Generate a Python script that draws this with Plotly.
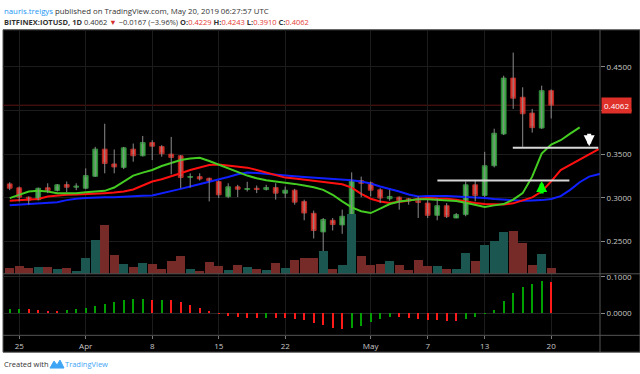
import plotly.graph_objects as go
import pandas as pd

# ---------------- data ----------------
start_date = "2019-03-24"
opens = [0.3161, 0.3116, 0.3009, 0.2980, 0.3116, 0.3085, 0.3153, 0.3123, 0.3111, 0.3248,
         0.3559, 0.3389, 0.3350, 0.3559, 0.3483, 0.3634, 0.3589, 0.3502, 0.3483, 0.3236,
         0.3244, 0.3225, 0.3188, 0.3014, 0.3127, 0.3097, 0.3111, 0.3097, 0.3120, 0.3055,
         0.3089, 0.2960, 0.2824, 0.2611, 0.2744, 0.2691, 0.2790, 0.3199, 0.3173, 0.3093,
         0.2991, 0.3009, 0.2991, 0.2968, 0.2941, 0.2801, 0.2911, 0.2770, 0.2809, 0.3150,
         0.3028, 0.3369, 0.3733, 0.4373, 0.4153, 0.3972, 0.3801, 0.4229]
highs = [0.3180, 0.3131, 0.3017, 0.3118, 0.3168, 0.3160, 0.3188, 0.3168, 0.3339, 0.3585,
         0.3850, 0.3555, 0.3585, 0.3623, 0.3710, 0.3661, 0.3604, 0.3699, 0.3490, 0.3282,
         0.3282, 0.3232, 0.3200, 0.3168, 0.3150, 0.3185, 0.3142, 0.3150, 0.3168, 0.3131,
         0.3104, 0.2980, 0.2855, 0.2770, 0.2770, 0.2866, 0.3293, 0.3244, 0.3188, 0.3111,
         0.3093, 0.3017, 0.2998, 0.3017, 0.2980, 0.2998, 0.2941, 0.2827, 0.3188, 0.3207,
         0.3528, 0.3793, 0.4400, 0.4665, 0.4267, 0.4020, 0.4286, 0.4243]
lows = [0.3089, 0.2960, 0.2923, 0.2972, 0.3055, 0.3074, 0.3066, 0.3089, 0.3100, 0.3240,
        0.3282, 0.3282, 0.3330, 0.3415, 0.3475, 0.3434, 0.3472, 0.3270, 0.3111, 0.3119,
        0.3199, 0.2960, 0.3000, 0.2998, 0.3009, 0.3074, 0.3055, 0.3085, 0.2980, 0.2998,
        0.2923, 0.2744, 0.2536, 0.2355, 0.2627, 0.2589, 0.2790, 0.3009, 0.3017, 0.2941,
        0.2968, 0.2866, 0.2923, 0.2770, 0.2770, 0.2744, 0.2770, 0.2770, 0.2790, 0.2960,
        0.3010, 0.3350, 0.3720, 0.4020, 0.3585, 0.3748, 0.3790, 0.3910]
closes = [0.3111, 0.3009, 0.2975, 0.3111, 0.3085, 0.3150, 0.3123, 0.3134, 0.3256, 0.3559,
          0.3395, 0.3355, 0.3574, 0.3483, 0.3634, 0.3593, 0.3506, 0.3464, 0.3233, 0.3245,
          0.3218, 0.3195, 0.3036, 0.3127, 0.3100, 0.3108, 0.3097, 0.3120, 0.3055, 0.3089,
          0.2952, 0.2827, 0.2627, 0.2752, 0.2695, 0.2790, 0.3199, 0.3168, 0.3089, 0.2998,
          0.3017, 0.2968, 0.2980, 0.2949, 0.2801, 0.2911, 0.2786, 0.2809, 0.3150, 0.3028,
          0.3369, 0.3741, 0.4373, 0.4142, 0.3964, 0.3805, 0.4229, 0.4062]
volumes = [1.4, 1.9, 1.4, 1.75, 1.6, 1.3, 1.5, 0.75, 4.0, 8.5,
           12.2, 4.8, 2.5, 1.8, 2.75, 2.4, 1.25, 3.3, 4.5, 1.1,
           0.6, 3.1, 1.9, 1.0, 2.25, 1.8, 1.2, 1.0, 2.7, 1.4,
           3.6, 3.9, 4.0, 5.7, 1.3, 2.3, 15.0, 4.6, 2.25, 2.4,
           3.25, 2.25, 0.9, 3.4, 1.9, 1.9, 1.25, 1.1, 5.15, 3.3,
           7.3, 8.3, 10.65, 10.8, 7.8, 2.25, 5.0, 1.5]

# Alligator lines (lips / teeth / jaw), displaced forward, starting at start_date
lips = [0.2998, 0.3032, 0.3074, 0.3081, 0.3074, 0.3055, 0.3051, 0.3055, 0.3066, 0.3074,
        0.3081, 0.3119, 0.3188, 0.3256, 0.3290, 0.3320, 0.3366, 0.3403, 0.3434, 0.3452,
        0.3460, 0.3423, 0.3380, 0.3339, 0.3293, 0.3256, 0.3225, 0.3202, 0.3188, 0.3176,
        0.3161, 0.3142, 0.3123, 0.3093, 0.3036, 0.2960, 0.2892, 0.2847, 0.2827, 0.2877,
        0.2930, 0.2960, 0.2972, 0.2985, 0.2986, 0.2980, 0.2975, 0.2964, 0.2945, 0.2923,
        0.2896, 0.2915, 0.2930, 0.2980, 0.3055, 0.3244, 0.3509, 0.3611, 0.3661, 0.3737,
        0.3809]
teeth = [0.2968, 0.2972, 0.2980, 0.2987, 0.3017, 0.3028, 0.3036, 0.3040, 0.3043, 0.3047,
         0.3055, 0.3062, 0.3074, 0.3097, 0.3138, 0.3188, 0.3214, 0.3244, 0.3282, 0.3320,
         0.3350, 0.3377, 0.3384, 0.3369, 0.3354, 0.3347, 0.3320, 0.3293, 0.3264, 0.3233,
         0.3222, 0.3210, 0.3195, 0.3180, 0.3168, 0.3157, 0.3119, 0.3047, 0.2991, 0.2960,
         0.2941, 0.2952, 0.2968, 0.2990, 0.2998, 0.2993, 0.2991, 0.2980, 0.2960, 0.2941,
         0.2930, 0.2926, 0.2926, 0.2938, 0.2968, 0.3006, 0.3074, 0.3190, 0.3320, 0.3380,
         0.3440, 0.3500, 0.3560]
jaw = [0.2915, 0.2923, 0.2930, 0.2938, 0.2941, 0.2952, 0.2975, 0.2991, 0.2998, 0.3006,
       0.3009, 0.3009, 0.3017, 0.3021, 0.3025, 0.3028, 0.3051, 0.3081, 0.3104, 0.3131,
       0.3157, 0.3188, 0.3214, 0.3240, 0.3271, 0.3290, 0.3286, 0.3275, 0.3264, 0.3256,
       0.3248, 0.3240, 0.3233, 0.3229, 0.3222, 0.3214, 0.3202, 0.3188, 0.3165, 0.3131,
       0.3104, 0.3074, 0.3040, 0.3017, 0.3021, 0.3025, 0.3021, 0.3017, 0.3013, 0.3006,
       0.2998, 0.2987, 0.2980, 0.2972, 0.2968, 0.2972, 0.2975, 0.2987, 0.3021, 0.3093,
       0.3180, 0.3244, 0.3271, 0.3300]

# Awesome oscillator histogram
ao = [0.0117, 0.0126, 0.0122, 0.0090, 0.0072, 0.0070, 0.0090, 0.0117, 0.0144, 0.0198,
      0.0261, 0.0306, 0.0360, 0.0387, 0.0405, 0.0369, 0.0375, 0.0369, 0.0306, 0.0225,
      0.0144, 0.0063, -0.0010, -0.0063, -0.0090, -0.0117, -0.0120, -0.0110, -0.0117, -0.0120,
      -0.0153, -0.0189, -0.0252, -0.0324, -0.0387, -0.0432, -0.0405, -0.0333, -0.0225, -0.0144,
      -0.0099, -0.0108, -0.0135, -0.0162, -0.0180, -0.0189, -0.0198, -0.0200, -0.0144, -0.0099,
      -0.0010, 0.0108, 0.0333, 0.0568, 0.0712, 0.0811, 0.0874, 0.0847]

tick_dates = ["2019-03-25", "2019-04-01", "2019-04-08", "2019-04-15", "2019-04-22",
              "2019-05-01", "2019-05-07", "2019-05-13", "2019-05-20"]
tick_labels = ["25", "Apr", "8", "15", "22", "May", "7", "13", "20"]
price_ticks = [0.25, 0.30, 0.35, 0.40, 0.45]
ao_ticks = [0.0, 0.1]

support_level = 0.3199   # drawn horizontal lines
resist_level = 0.3574

# ---------------- derived ----------------
dates = pd.date_range(start_date, periods=len(closes), freq="D")
lips_d = pd.date_range(start_date, periods=len(lips), freq="D")
teeth_d = pd.date_range(start_date, periods=len(teeth), freq="D")
jaw_d = pd.date_range(start_date, periods=len(jaw), freq="D")

W, H = 640, 374
def px_x(p): return p / W
def px_y(p): return (H - p) / H

UP, DN = "#41ad49", "#e5352e"
UP_L, DN_L = "#2f8c38", "#b52822"
VOL_UP, VOL_DN = "#1b5650", "#772b29"
GRID = "#1c1c1c"
FRAME = "#555555"

body_hi = [max(o, c) for o, c in zip(opens, closes)]
body_lo = [min(o, c) for o, c in zip(opens, closes)]

wx, wy = [], []
for d, lo, hi in zip(dates, lows, highs):
    wx += [d, d, None]
    wy += [lo, hi, None]

vol_colors = [VOL_UP if c >= o else VOL_DN for o, c in zip(opens, closes)]
ao_colors = [("#00a000" if (i == 0 or v >= ao[i - 1]) else "#ff1a1a") for i, v in enumerate(ao)]

DAY = 86400000

fig = go.Figure()

fig.add_trace(go.Bar(x=dates, y=volumes, marker=dict(color=vol_colors, line=dict(width=0)),
                     width=0.93 * DAY, xaxis="x", yaxis="y3", hoverinfo="skip", showlegend=False))
fig.add_trace(go.Scatter(x=jaw_d, y=jaw, mode="lines", line=dict(color="#1020ff", width=2),
                         xaxis="x", yaxis="y", hoverinfo="skip", showlegend=False))
fig.add_trace(go.Scatter(x=teeth_d, y=teeth, mode="lines", line=dict(color="#ff1010", width=2),
                         xaxis="x", yaxis="y", hoverinfo="skip", showlegend=False))
fig.add_trace(go.Scatter(x=lips_d, y=lips, mode="lines", line=dict(color="#44cc22", width=2),
                         xaxis="x", yaxis="y", hoverinfo="skip", showlegend=False))
fig.add_trace(go.Scatter(x=wx, y=wy, mode="lines", line=dict(color="#8c8c8c", width=1),
                         xaxis="x", yaxis="y", hoverinfo="skip", showlegend=False))
fig.add_trace(go.Candlestick(x=dates, open=opens, high=body_hi, low=body_lo, close=closes,
                             increasing=dict(fillcolor=UP, line=dict(color=UP_L, width=1)),
                             decreasing=dict(fillcolor=DN, line=dict(color=DN_L, width=1)),
                             whiskerwidth=0, xaxis="x", yaxis="y", hoverinfo="skip", showlegend=False))
fig.add_trace(go.Bar(x=dates, y=ao, marker=dict(color=ao_colors, line=dict(width=0)),
                     width=0.22 * DAY, xaxis="x2", yaxis="y2", hoverinfo="skip", showlegend=False))

x_range = ["2019-03-23 07:00", "2019-05-25 03:20"]
xdom = [px_x(3), px_x(600)]
price_dom = [px_y(273), px_y(27)]
ao_dom = [px_y(335), px_y(273)]

axis_font = dict(family="Open Sans, Roboto, sans-serif", size=8, color="#c8c8c8")

fig.update_layout(
    width=W, height=H, autosize=False,
    margin=dict(l=0, r=0, t=0, b=0),
    paper_bgcolor="white", plot_bgcolor="black",
    showlegend=False, bargap=0, boxgap=0.28,
    xaxis=dict(domain=xdom, range=x_range, type="date", anchor="y",
               tickvals=tick_dates, showticklabels=False, ticks="",
               showgrid=True, gridcolor=GRID, gridwidth=1, zeroline=False,
               showline=False, rangeslider=dict(visible=False)),
    xaxis2=dict(domain=xdom, range=x_range, type="date", anchor="y2", matches="x",
                tickvals=tick_dates, ticktext=tick_labels, ticks="outside", ticklen=3,
                tickcolor="#777", tickfont=axis_font,
                showgrid=True, gridcolor=GRID, gridwidth=1, zeroline=False, showline=False),
    yaxis=dict(domain=price_dom, range=[0.2131, 0.4926], side="right", anchor="x",
               tickvals=price_ticks, tickformat=".4f", ticks="outside", ticklen=4,
               tickcolor="#888", tickfont=axis_font, showgrid=True, gridcolor=GRID,
               zeroline=False, showline=False),
    yaxis3=dict(overlaying="y", range=[0, 61.5], visible=False, anchor="x"),
    yaxis2=dict(domain=ao_dom, range=[-0.0595, 0.1081], side="right", anchor="x2",
                tickvals=ao_ticks, tickformat=".4f", ticks="outside", ticklen=4,
                tickcolor="#888", tickfont=axis_font, showgrid=True, gridcolor="#262626",
                zeroline=False, showline=False),
)

shapes = []
# black chart frame background
shapes.append(dict(type="rect", xref="paper", yref="paper", x0=px_x(3), x1=1.0,
                   y0=px_y(352), y1=px_y(27), fillcolor="black",
                   line=dict(color=FRAME, width=1), layer="below"))
# dividers
shapes.append(dict(type="line", xref="paper", yref="paper", x0=px_x(600), x1=px_x(600),
                   y0=px_y(352), y1=px_y(27), line=dict(color=FRAME, width=1), layer="above"))
for yy in (273, 335):
    shapes.append(dict(type="line", xref="paper", yref="paper", x0=px_x(3), x1=1.0,
                       y0=px_y(yy), y1=px_y(yy), line=dict(color=FRAME, width=1), layer="above"))
# last price line
shapes.append(dict(type="line", xref="x", yref="y", x0=x_range[0], x1=x_range[1],
                   y0=closes[-1], y1=closes[-1], line=dict(color="#5c1414", width=1), layer="below"))
# drawn support / resistance lines
shapes.append(dict(type="line", xref="x", yref="y", x0="2019-05-08 00:30", x1="2019-05-21 22:00",
                   y0=support_level, y1=support_level, line=dict(color="#d8d8d8", width=2), layer="above"))
shapes.append(dict(type="line", xref="x", yref="y", x0="2019-05-15 23:00", x1="2019-05-24 23:00",
                   y0=resist_level, y1=resist_level, line=dict(color="#d8d8d8", width=2), layer="above"))
# TradingView logo (small cloud)
shapes.append(dict(type="path", xref="paper", yref="paper",
                   path=f"M {px_x(50)} {px_y(368)} L {px_x(54)} {px_y(361)} L {px_x(57)} {px_y(365)} "
                        f"L {px_x(60)} {px_y(360)} L {px_x(64)} {px_y(368)} Z",
                   fillcolor="#3ea5f5", line=dict(color="#3ea5f5", width=1)))
fig.update_layout(shapes=shapes)

hdr_font1 = dict(family="Open Sans, Roboto, sans-serif", size=7.8, color="#333333")
hdr_font2 = dict(family="Open Sans, Roboto, sans-serif", size=7.5, color="#333333")
line1 = ('<span style="color:#2196f3">nauris.treigys</span> published on TradingView.com, '
         'May 20, 2019 06:27:57 UTC')
line2 = ('<b>BITFINEX:IOTUSD, 1D</b> ' + f"{closes[-1]:.4f} "
         '<span style="color:#d32f2f">▼</span> −0.0167 (−3.96%) '
         f'<b>O:</b><span style="color:#e53935">{opens[-1]:.4f}</span> '
         f'<b>H:</b><span style="color:#e53935">{highs[-1]:.4f}</span> '
         f'<b>L:</b><span style="color:#e53935">{lows[-1]:.4f}</span> '
         f'<b>C:</b><span style="color:#e53935">{closes[-1]:.4f}</span>')

annotations = [
    dict(xref="paper", yref="paper", x=px_x(2), y=px_y(8), xanchor="left", yanchor="middle",
         text=line1, showarrow=False, font=hdr_font1),
    dict(xref="paper", yref="paper", x=px_x(2), y=px_y(19.5), xanchor="left", yanchor="middle",
         text=line2, showarrow=False, font=hdr_font2),
    dict(xref="paper", yref="paper", x=px_x(2), y=px_y(364), xanchor="left", yanchor="middle",
         text="Created with", showarrow=False,
         font=dict(family="Open Sans, Roboto, sans-serif", size=7.5, color="#333333")),
    dict(xref="paper", yref="paper", x=px_x(63), y=px_y(364), xanchor="left", yanchor="middle",
         text="TradingView", showarrow=False,
         font=dict(family="Open Sans, Roboto, sans-serif", size=7.5, color="#3ea5f5")),
    # last price label
    dict(xref="paper", yref="y", x=px_x(601), y=closes[-1], xanchor="left", yanchor="middle",
         text=f"{closes[-1]:.4f}", showarrow=False, bgcolor="#e0302a", borderpad=2,
         font=dict(family="Open Sans, Roboto, sans-serif", size=8, color="white")),
    # arrows drawn by author
    dict(xref="x", yref="y", axref="x", ayref="y", x="2019-05-19", y=0.3195,
         ax="2019-05-19", ay=0.3035, text="", showarrow=True, arrowhead=2,
         arrowsize=0.55, arrowwidth=4, arrowcolor="#00ff00"),
    dict(xref="x", yref="y", axref="x", ayref="y", x="2019-05-24", y=0.3592,
         ax="2019-05-24", ay=0.3752, text="", showarrow=True, arrowhead=2,
         arrowsize=0.55, arrowwidth=4, arrowcolor="#ffffff"),
]
fig.update_layout(annotations=annotations)

fig.write_html("out.html",
               config={"displayModeBar": False, "staticPlot": True},
               post_script="document.body.style.margin='0px';document.body.style.overflow='hidden';")
